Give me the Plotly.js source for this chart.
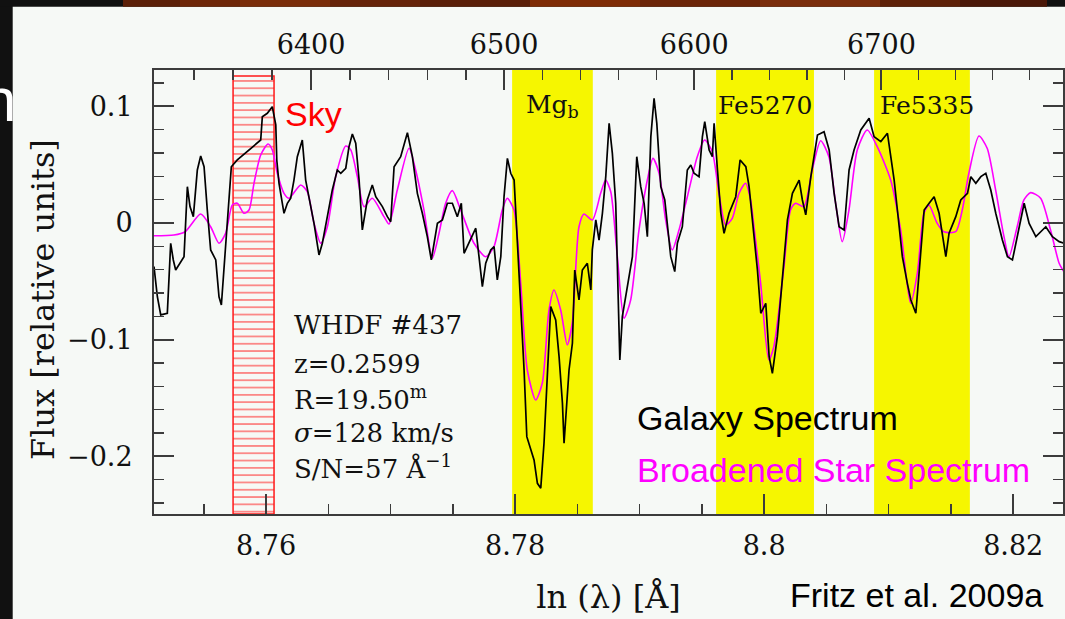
<!DOCTYPE html>
<html>
<head>
<meta charset="utf-8">
<script src="https://cdn.plot.ly/plotly-3.0.1.min.js"></script>
<style>
  html, body { margin: 0; padding: 0; background: #111; }
  #chart { width: 1065px; height: 619px; }
</style>
</head>
<body>
<div id="chart"></div>
<script>
// Galaxy spectrum WHDF #437: ln(lambda) [A] and relative flux
const lnLambdaGalaxy = [
  8.7510, 8.75127, 8.75154, 8.75207, 8.75234, 8.75255, 8.75274, 8.75315, 8.75341, 8.75368,
  8.75389, 8.75416, 8.75448, 8.75475, 8.75502, 8.75528, 8.75555, 8.75596, 8.75622, 8.75641,
  8.75662, 8.75689, 8.75721, 8.75769, 8.75957, 8.7597, 8.7601, 8.7605, 8.76078, 8.76086,
  8.76104, 8.76144, 8.76171, 8.76198, 8.76224, 8.76251, 8.76291, 8.76318, 8.76345, 8.76385,
  8.76425, 8.76452, 8.76492, 8.76532, 8.76572, 8.766, 8.7664, 8.76666, 8.76693, 8.7672,
  8.76747, 8.76773, 8.76813, 8.76853, 8.76881, 8.76934, 8.76974, 8.77001, 8.77028, 8.77081,
  8.77135, 8.77175, 8.77215, 8.77255, 8.77295, 8.77327, 8.77376, 8.77416, 8.77456, 8.77496,
  8.77536, 8.77568, 8.7759, 8.7763, 8.77684, 8.7771, 8.77737, 8.77764, 8.77804, 8.77831,
  8.77857, 8.77885, 8.77911, 8.77938, 8.77965, 8.77992, 8.78013, 8.78045, 8.78072, 8.78094,
  8.78126, 8.78152, 8.78179, 8.78206, 8.78232, 8.78259, 8.78286, 8.78326, 8.78353, 8.7838,
  8.78393, 8.78433, 8.7846, 8.78479, 8.78513, 8.7854, 8.7858, 8.78608, 8.7862, 8.78648,
  8.78674, 8.78701, 8.78728, 8.78755, 8.78781, 8.78808, 8.78821, 8.78835, 8.78841, 8.78861,
  8.78902, 8.78942, 8.78977, 8.79009, 8.79036, 8.79062, 8.7909, 8.79116, 8.79138, 8.7917,
  8.79202, 8.79223, 8.7925, 8.79282, 8.79303, 8.79343, 8.79383, 8.79411, 8.79437, 8.79477,
  8.79504, 8.79523, 8.79558, 8.79584, 8.79598, 8.79625, 8.79652, 8.79678, 8.79718, 8.79772,
  8.79807, 8.79853, 8.79879, 8.79919, 8.79946, 8.79973, 8.80013, 8.8004, 8.80066, 8.80106,
  8.80147, 8.80187, 8.80227, 8.80281, 8.80307, 8.80334, 8.80375, 8.80428, 8.80481, 8.80522,
  8.80562, 8.80602, 8.80642, 8.80682, 8.80722, 8.80776, 8.80843, 8.80883, 8.80937, 8.8099,
  8.81017, 8.81044, 8.8107, 8.8111, 8.8115, 8.81178, 8.81218, 8.81244, 8.81285, 8.81325,
  8.81365, 8.81405, 8.81445, 8.81459, 8.81485, 8.81539, 8.81579, 8.81633, 8.8166, 8.817,
  8.8174, 8.8178, 8.8182, 8.8186, 8.81913, 8.81954, 8.81994, 8.82034, 8.82088, 8.82128,
  8.82182, 8.82262, 8.82315, 8.82369, 8.82409
];
const fluxGalaxy = [
  -0.0374, -0.0632, -0.0788, -0.0774, -0.0174, -0.0317, -0.0403, -0.0332, -0.0289, 0.0311,
  0.0140, 0.0054, 0.0454, 0.0574, 0.0482, 0.0111, -0.0231, -0.0317, -0.0632, -0.0703,
  -0.0374, 0.0026, 0.0482, 0.0540, 0.0711, 0.0911, 0.0940, 0.0997, 0.0840, 0.0540,
  0.0340, 0.0083, 0.0169, 0.0212, 0.0368, 0.0568, 0.0711, 0.0368, 0.0225, -0.0003,
  -0.0274, -0.0174, 0.0054, 0.0283, 0.0454, 0.0426, 0.0469, 0.0654, 0.0763, 0.0683,
  0.0368, -0.0060, 0.0197, 0.0326, 0.0225, 0.0140, 0.0054, 0.0011, 0.0482, 0.0568,
  0.0774, 0.0568, 0.0254, 0.0083, -0.0117, -0.0317, -0.0003, 0.0026, 0.0169, 0.0169,
  0.0054, 0.0169, -0.0260, -0.0174, -0.0045, -0.0289, -0.0546, -0.0345, -0.0231, -0.0203,
  -0.0488, -0.0289, 0.0225, 0.0554, 0.0426, 0.0368, -0.0060, -0.0688, -0.1260, -0.1831,
  -0.1945, -0.2031, -0.2231, -0.2273, -0.1888, -0.1260, -0.0717, -0.0831, -0.1146, -0.1545,
  -0.1888, -0.1260, -0.1031, -0.0403, -0.0660, -0.0403, -0.0345, -0.0574, -0.0231, 0.0026,
  -0.0146, 0.0083, 0.0397, 0.0854, 0.0597, 0.0169, -0.0289, -0.0874, -0.1174, -0.0803,
  -0.0546, -0.0289, 0.0568, 0.0311, 0.0169, -0.0117, 0.0740, 0.1069, 0.0854, 0.0311,
  0.0197, -0.0003, -0.0289, -0.0417, -0.0174, -0.0032, 0.0454, 0.0497, 0.0426, 0.0397,
  0.0740, 0.0868, 0.0626, 0.0568, 0.0854, 0.0454, 0.0083, -0.0088, 0.0083, 0.0225,
  0.0540, 0.0482, 0.0311, -0.0117, -0.0403, -0.0774, -0.0688, -0.1146, -0.1288, -0.0974,
  -0.0460, 0.0026, 0.0254, 0.0368, 0.0197, 0.0069, 0.0397, 0.0754, 0.0782, 0.0626,
  0.0254, -0.0032, -0.0060, 0.0454, 0.0626, 0.0797, 0.0897, 0.0740, 0.0697, 0.0769,
  0.0568, 0.0368, 0.0111, -0.0289, -0.0517, -0.0660, -0.0774, -0.0403, 0.0111, 0.0169,
  0.0225, 0.0083, -0.0174, -0.0289, -0.0088, 0.0054, 0.0197, 0.0254, 0.0397, 0.0340,
  0.0397, 0.0426, 0.0283, 0.0083, -0.0146, -0.0289, -0.0317, -0.0117, 0.0169, -0.0003,
  -0.0117, -0.0032, -0.0117, -0.0160, -0.0174
];

// Template star spectrum broadened to the galaxy's velocity dispersion
const lnLambdaStar = [
  8.7510, 8.7526, 8.7535, 8.75475, 8.75555, 8.75622, 8.75676, 8.75729, 8.75769, 8.75823,
  8.75863, 8.75903, 8.75957, 8.76016, 8.7605, 8.7609, 8.76144, 8.76184, 8.76278, 8.76331,
  8.76385, 8.76439, 8.76492, 8.76559, 8.7664, 8.7668, 8.76733, 8.76787, 8.76853, 8.76947,
  8.76987, 8.77054, 8.77148, 8.77201, 8.77268, 8.77335, 8.77389, 8.77442, 8.77496, 8.77563,
  8.7767, 8.77764, 8.7783, 8.77897, 8.77937, 8.77991, 8.78045, 8.78098, 8.78165, 8.78218,
  8.78272, 8.78312, 8.78366, 8.78419, 8.78459, 8.78513, 8.78553, 8.7862, 8.78687, 8.78727,
  8.78768, 8.78821, 8.78875, 8.78928, 8.78995, 8.79062, 8.79107, 8.79156, 8.79209, 8.79262,
  8.79316, 8.79383, 8.79463, 8.79522, 8.79583, 8.79637, 8.79691, 8.79744, 8.79798, 8.79851,
  8.79891, 8.79918, 8.79972, 8.80038, 8.80078, 8.80159, 8.80212, 8.80253, 8.80319, 8.80386,
  8.80454, 8.8052, 8.80574, 8.80627, 8.80681, 8.80748, 8.80828, 8.80908, 8.81016, 8.81096,
  8.81176, 8.8123, 8.81283, 8.81323, 8.8139, 8.81444, 8.81538, 8.81591, 8.81644, 8.81725,
  8.81791, 8.81859, 8.81926, 8.81966, 8.82032, 8.82086, 8.8214, 8.8222, 8.823, 8.82369, 8.82407
];
const fluxStar = [
  -0.0109, -0.0103, -0.0075, 0.0077, -0.0032, -0.0174, -0.0086, 0.0154, 0.0169, 0.0083,
  0.0111, 0.0340, 0.0583, 0.0677, 0.0626, 0.0426, 0.0254, 0.0212, 0.0326, 0.0268,
  -0.0003, -0.0174, -0.0032, 0.0397, 0.0660, 0.0626, 0.0397, 0.0140, 0.0212, 0.0054,
  -0.0009, 0.0283, 0.0640, 0.0454, 0.0111, -0.0302, -0.0088, 0.0169, 0.0277, 0.0111,
  -0.0174, -0.0289, -0.0203, 0.0111, 0.0212, 0.0111, -0.0517, -0.1260, -0.1517, -0.1374,
  -0.0746, -0.0574, -0.0746, -0.1045, -0.0859, -0.0032, 0.0077, 0.0026, 0.0254, 0.0368,
  0.0268, -0.0289, -0.0817, -0.0660, -0.0060, 0.0368, 0.0554, 0.0426, 0.0026, -0.0231,
  -0.0060, 0.0225, 0.0568, 0.0711, 0.0611, 0.0254, -0.0017, 0.0040, 0.0254, 0.0340,
  0.0197, -0.0032, -0.0517, -0.1174, -0.1060, -0.0374, 0.0111, 0.0169, 0.0140, 0.0454,
  0.0705, 0.0568, 0.0169, -0.0160, 0.0111, 0.0626, 0.0797, 0.0654, 0.0368, -0.0060,
  -0.0688, -0.0431, 0.0083, 0.0154, -0.0003, -0.0075, -0.0075, 0.0111, 0.0426, 0.0745,
  0.0640, 0.0283, -0.0117, -0.0289, -0.0032, 0.0197, 0.0260, 0.0212, -0.0060, -0.0345, -0.0417
];

// Lick index bandpasses (observed frame, ln lambda)
const bandNames = ['Mg<sub>b</sub>', 'Fe5270', 'Fe5335'];
const bandLo = [8.77976, 8.79614, 8.80883];
const bandHi = [8.78624, 8.80400, 8.81652];

// Region contaminated by a sky line
const skyLo = 8.75735;
const skyHi = 8.76064;
const skyTop = 0.1260;

// Axis ticks
const lnTickVals = [8.76, 8.78, 8.80, 8.82];
const lnTickText = ['8.76', '8.78', '8.8', '8.82'];
const fluxTickVals = [-0.2, -0.1, 0, 0.1];
const fluxTickText = ['\u22120.2', '\u22120.1', '0', '0.1'];
const topWavelengths = [6400, 6500, 6600, 6700];

// Object parameters
const infoLines = [
  'WHDF #437',
  'z=0.2599',
  'R=19.50<sup>m</sup>',
  '<i>\u03c3</i>=128 km/s',
  'S/N=57 \u00c5<sup>\u22121</sup>'
];

const X_RANGE = [8.751, 8.824];
const Y_RANGE = [-0.2494, 0.1311];
const TOP_OFFSET = 0.00044;   // small zero-point offset of the wavelength scale
const FRAME = '#3c3c3c';
const SERIF = 'DejaVu Serif';
const SANS = 'Liberation Sans, Arial, sans-serif';

// minor ticks of the wavelength axis every 20 A
const topMinor = [];
for (let w = 6300; w <= 6820; w += 20) topMinor.push(Math.log(w));

const traces = [
  {
    // hatched sky region
    x: [skyLo, skyLo, skyHi, skyHi, skyLo],
    y: [Y_RANGE[0], skyTop, skyTop, Y_RANGE[0], Y_RANGE[0]],
    mode: 'lines',
    fill: 'toself',
    fillcolor: 'rgba(0,0,0,0)',
    fillpattern: { shape: '-', size: 7.3, solidity: 0.18, fgcolor: 'rgba(255,40,40,0.75)', bgcolor: 'rgba(255,255,255,0)' },
    line: { color: '#ff1a1a', width: 1.5 },
    hoverinfo: 'skip', showlegend: false
  },
  {
    x: lnLambdaStar, y: fluxStar,
    mode: 'lines',
    line: { color: '#ff00ff', width: 1.6, shape: 'spline', smoothing: 0.7 },
    name: 'Broadened Star Spectrum', showlegend: false
  },
  {
    x: lnLambdaGalaxy, y: fluxGalaxy,
    mode: 'lines',
    line: { color: '#000000', width: 1.7 },
    name: 'Galaxy Spectrum', showlegend: false
  },
  { x: [], y: [], xaxis: 'x2', yaxis: 'y', showlegend: false, hoverinfo: 'skip' }
];

const shapes = [];
bandLo.forEach((lo, i) => {
  shapes.push({
    type: 'rect', xref: 'x', yref: 'paper', x0: lo, x1: bandHi[i], y0: 0, y1: 1,
    fillcolor: '#f6f600', line: { width: 0 }, layer: 'below'
  });
});

// slide background around the figure: dark left strip and brown top strip
const pxX = p => (p - 154) / 909;
const pxY = p => (514 - p) / 444;
shapes.push({ type: 'rect', xref: 'paper', yref: 'paper', x0: pxX(0), x1: pxX(12.7), y0: pxY(619), y1: pxY(0), fillcolor: '#111111', line: { width: 0 }, layer: 'above' });
shapes.push({ type: 'rect', xref: 'paper', yref: 'paper', x0: pxX(0), x1: pxX(1065), y0: pxY(6.7), y1: pxY(0), fillcolor: '#111111', line: { width: 0 }, layer: 'above' });
const stripStops = [123, 180, 240, 330, 420, 530, 640, 760, 880, 960, 1047];
const stripCols = ['#5c2008', '#6e2708', '#7a2d0a', '#66240a', '#5a1f08', '#7e2c06', '#6c2608', '#7a2e0c', '#5e2208', '#4a1808'];
for (let i = 0; i < stripCols.length; i++) {
  shapes.push({ type: 'rect', xref: 'paper', yref: 'paper', x0: pxX(stripStops[i]), x1: pxX(stripStops[i + 1]), y0: pxY(6.7), y1: pxY(0), fillcolor: stripCols[i], line: { width: 0 }, layer: 'above' });
}

const annotations = [];
bandNames.forEach((name, i) => {
  annotations.push({
    x: (bandLo[i] + bandHi[i]) / 2, y: 0.1003, xref: 'x', yref: 'y',
    text: name, showarrow: false, xanchor: 'center', yanchor: 'middle',
    xshift: i === 2 ? 5 : 0,
    font: { family: SERIF, size: 25, color: '#111' }
  });
});
const infoY = [-0.0874, -0.1208, -0.1500, -0.1799, -0.2091];
infoLines.forEach((t, i) => {
  annotations.push({
    x: 8.76208, y: infoY[i], xref: 'x', yref: 'y', text: t, showarrow: false,
    xanchor: 'left', yanchor: 'middle',
    font: { family: SERIF, size: 26, color: '#111' }
  });
});
annotations.push(
  { x: 8.76136, y: 0.0938, xref: 'x', yref: 'y', text: 'Sky', showarrow: false, xanchor: 'left', yanchor: 'middle', font: { family: SANS, size: 34, color: '#ff0000' } },
  { x: 8.78963, y: -0.1675, xref: 'x', yref: 'y', text: 'Galaxy Spectrum', showarrow: false, xanchor: 'left', yanchor: 'middle', font: { family: SANS, size: 34, color: '#000000' } },
  { x: 8.78963, y: -0.2117, xref: 'x', yref: 'y', text: 'Broadened Star Spectrum', showarrow: false, xanchor: 'left', yanchor: 'middle', font: { family: SANS, size: 34, color: '#ff00ff' } },
  { x: pxX(788), y: pxY(595), xref: 'paper', yref: 'paper', text: 'Fritz et al. 2009a', showarrow: false, xanchor: 'left', yanchor: 'middle', font: { family: SANS, size: 34, color: '#000000' } },
  // vertical axis title
  { x: pxX(43), y: pxY(300), xref: 'paper', yref: 'paper', text: 'Flux [relative units]', textangle: -90, showarrow: false, xanchor: 'center', yanchor: 'middle', font: { family: SERIF, size: 32, color: '#111' } },
  { x: pxX(-20), y: pxY(99), xref: 'paper', yref: 'paper', text: 'n', showarrow: false, xanchor: 'left', yanchor: 'middle', font: { family: SANS, size: 62, color: '#ffffff' } }
);

const tickFont = { family: SERIF, size: 27, color: '#111' };

const layout = {
  width: 1065, height: 619,
  margin: { l: 154, r: 2, t: 70, b: 105, pad: 0 },
  paper_bgcolor: '#f6f9f6',
  plot_bgcolor: '#f6f9f6',
  showlegend: false,
  xaxis: {
    range: X_RANGE, tickmode: 'array', tickvals: lnTickVals, ticktext: lnTickText,
    ticks: 'inside', ticklen: 20, tickwidth: 2, tickcolor: FRAME,
    minor: { tickmode: 'linear', tick0: 8.755, dtick: 0.005, ticks: 'inside', ticklen: 10, tickwidth: 1.5, tickcolor: FRAME },
    showline: true, linecolor: FRAME, linewidth: 2, mirror: false,
    showgrid: false, zeroline: false, tickfont: tickFont, ticklabelstandoff: 7,
    title: { text: 'ln (\u03bb) [\u00c5]', font: { family: SERIF, size: 32, color: '#111' }, standoff: 25 },
    automargin: false
  },
  xaxis2: {
    overlaying: 'x', side: 'top', anchor: 'y',
    range: [X_RANGE[0] + TOP_OFFSET, X_RANGE[1] + TOP_OFFSET],
    tickmode: 'array', tickvals: topWavelengths.map(Math.log), ticktext: topWavelengths.map(String),
    ticks: 'inside', ticklen: 20, tickwidth: 2, tickcolor: FRAME,
    minor: { tickmode: 'array', tickvals: topMinor, ticks: 'inside', ticklen: 10, tickwidth: 1.5, tickcolor: FRAME },
    showline: true, linecolor: FRAME, linewidth: 2,
    showgrid: false, zeroline: false, tickfont: tickFont, ticklabelstandoff: 3,
    automargin: false
  },
  yaxis: {
    range: Y_RANGE, tickmode: 'array', tickvals: fluxTickVals, ticktext: fluxTickText,
    ticks: 'inside', ticklen: 20, tickwidth: 2, tickcolor: FRAME,
    minor: { tickmode: 'linear', tick0: 0, dtick: 0.02, ticks: 'inside', ticklen: 10, tickwidth: 1.5, tickcolor: FRAME },
    showline: true, linecolor: FRAME, linewidth: 2, mirror: 'ticks',
    showgrid: false, zeroline: false, tickfont: tickFont, ticklabelstandoff: 14,
    automargin: false
  },
  shapes: shapes,
  annotations: annotations
};

Plotly.newPlot('chart', traces, layout, { displayModeBar: false, staticPlot: true });
</script>
</body>
</html>
